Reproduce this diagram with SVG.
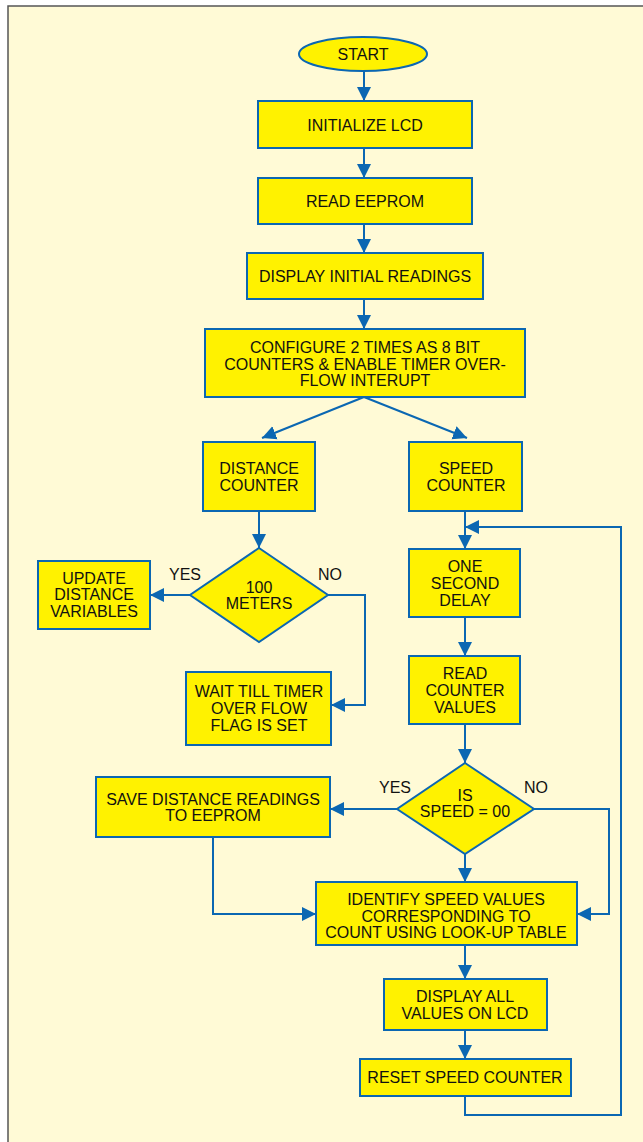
<svg xmlns="http://www.w3.org/2000/svg" width="643" height="1142" viewBox="0 0 643 1142">
<defs>
<marker id="ah" markerUnits="userSpaceOnUse" markerWidth="16" markerHeight="16" viewBox="0 0 16 16" refX="14" refY="8" orient="auto">
<path d="M0,1 L14,8 L0,15 Z" fill="#0b67b2"/>
</marker>
<style>
.n{fill:#fff200;stroke:#0b67b2;stroke-width:2}
.t{font-family:"Liberation Sans",Arial,sans-serif;font-size:16px;fill:#111;text-anchor:middle;dominant-baseline:central}
.c{fill:none;stroke:#0b67b2;stroke-width:2}
.a{marker-end:url(#ah)}
</style>
</defs>
<rect x="8" y="6" width="640" height="1140" fill="#fffad6" stroke="#555" stroke-width="1.5"/>
<g id="connectors">
<path class="c a" d="M364,72 V101"/>
<path class="c a" d="M364,148 V178"/>
<path class="c a" d="M364,224 V253"/>
<path class="c a" d="M364,299 V329"/>
<path class="c a" d="M364,397 L262,438"/>
<path class="c a" d="M364,397 L467,438"/>
<path class="c a" d="M259,511 V548"/>
<path class="c a" d="M190,595 H150"/>
<path class="c a" d="M328,595 H365 V705 H331"/>
<path class="c a" d="M465,511 V549"/>
<path class="c a" d="M465,617 V656"/>
<path class="c a" d="M465,724 V763"/>
<path class="c a" d="M397,809 H330"/>
<path class="c a" d="M465,854 V882"/>
<path class="c a" d="M213,837 V914 H316"/>
<path class="c a" d="M534,809 H609 V914 H577"/>
<path class="c a" d="M465,945 V979"/>
<path class="c a" d="M465,1030 V1059"/>
<path class="c a" d="M465,1096 V1115 H621 V527 H465"/>
</g>
<g id="start"><ellipse class="n" cx="363" cy="54" rx="64" ry="17"/><text class="t" x="363" y="54">START</text></g>
<g id="init"><rect class="n" x="258" y="101" width="214" height="47"/><text class="t" x="365" y="125">INITIALIZE LCD</text></g>
<g id="readeeprom"><rect class="n" x="258" y="178" width="214" height="46"/><text class="t" x="365" y="201">READ EEPROM</text></g>
<g id="display"><rect class="n" x="247" y="253" width="236" height="46"/><text class="t" x="365" y="276">DISPLAY INITIAL READINGS</text></g>
<g id="configure"><rect class="n" x="205" y="329" width="320" height="68"/><text class="t" x="365" y="347">CONFIGURE 2 TIMES AS 8 BIT</text><text class="t" x="365" y="364">COUNTERS &amp; ENABLE TIMER OVER-</text><text class="t" x="365" y="380">FLOW INTERUPT</text></g>
<g id="distance"><rect class="n" x="203" y="442" width="112" height="69"/><text class="t" x="259" y="468">DISTANCE</text><text class="t" x="259" y="485">COUNTER</text></g>
<g id="speed"><rect class="n" x="409" y="442" width="113" height="69"/><text class="t" x="466" y="468">SPEED</text><text class="t" x="466" y="485">COUNTER</text></g>
<g id="meters"><path class="n" d="M259,548 L328,595 L259,642 L190,595 Z"/><text class="t" x="259" y="587">100</text><text class="t" x="259" y="603">METERS</text></g>
<g id="update"><rect class="n" x="38" y="561" width="112" height="68"/><text class="t" x="94" y="578">UPDATE</text><text class="t" x="94" y="594">DISTANCE</text><text class="t" x="94" y="611">VARIABLES</text></g>
<g id="wait"><rect class="n" x="186" y="672" width="145" height="73"/><text class="t" x="259" y="691">WAIT TILL TIMER</text><text class="t" x="259" y="708">OVER FLOW</text><text class="t" x="259" y="725">FLAG IS SET</text></g>
<g id="delay"><rect class="n" x="409" y="549" width="111" height="68"/><text class="t" x="465" y="566">ONE</text><text class="t" x="465" y="583">SECOND</text><text class="t" x="465" y="600">DELAY</text></g>
<g id="readcounter"><rect class="n" x="409" y="656" width="111" height="68"/><text class="t" x="465" y="673">READ</text><text class="t" x="465" y="690">COUNTER</text><text class="t" x="465" y="707">VALUES</text></g>
<g id="isspeed"><path class="n" d="M465,763 L534,809 L465,854 L397,809 Z"/><text class="t" x="465" y="795">IS</text><text class="t" x="465" y="811">SPEED = 00</text></g>
<g id="save"><rect class="n" x="96" y="777" width="234" height="60"/><text class="t" x="213" y="799">SAVE DISTANCE READINGS</text><text class="t" x="213" y="815">TO EEPROM</text></g>
<g id="identify"><rect class="n" x="316" y="882" width="261" height="63"/><text class="t" x="446" y="899">IDENTIFY SPEED VALUES</text><text class="t" x="446" y="916">CORRESPONDING TO</text><text class="t" x="446" y="932">COUNT USING LOOK-UP TABLE</text></g>
<g id="displayall"><rect class="n" x="384" y="979" width="163" height="51"/><text class="t" x="465" y="996">DISPLAY ALL</text><text class="t" x="465" y="1013">VALUES ON LCD</text></g>
<g id="reset"><rect class="n" x="360" y="1059" width="211" height="37"/><text class="t" x="465" y="1077">RESET SPEED COUNTER</text></g>
<g id="labels"><text class="t" x="185" y="574">YES</text><text class="t" x="330" y="574">NO</text><text class="t" x="395" y="787">YES</text><text class="t" x="536" y="787">NO</text></g>
</svg>
